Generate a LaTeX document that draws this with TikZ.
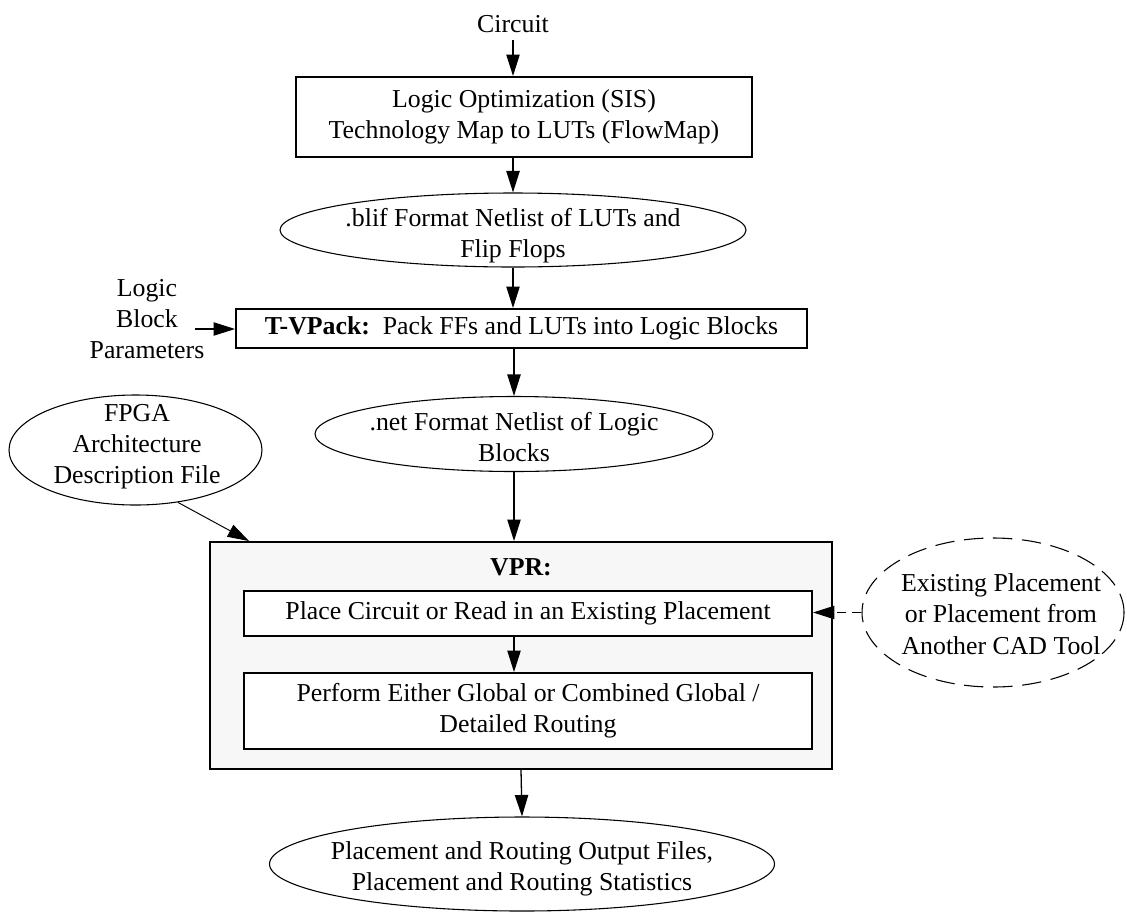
\documentclass[tikz,border=0pt]{standalone}
\usepackage{fontspec}
\setmainfont{Liberation Serif}
\usepackage{xcolor}
\usetikzlibrary{arrows.meta,shapes.geometric,calc}

\definecolor{vprgray}{HTML}{F7F7F7}
\newcommand{\pxu}{0.465pt}

\tikzset{
  box/.style={draw, line width=0.9pt, inner sep=0pt, align=center, fill=white},
  ell/.style={draw, ellipse, line width=0.5pt, inner sep=0pt},
  arr/.style={-{Triangle[length=10pt,width=6.2pt]}, line width=0.6pt},
  thinarr/.style={-{Triangle[length=10pt,width=6.2pt]}, line width=0.45pt},
  dasharr/.style={arr, dash pattern=on 4.6pt off 2.4pt},
}

\begin{document}
\begin{tikzpicture}[x=0.465pt, y=-0.465pt, font=\fontsize{12}{14.5}\selectfont]
\useasboundingbox (0,0) rectangle (1127,911);

\node (circuit) at (513,24) {Circuit};
\node[box, minimum width=456*\pxu, minimum height=80*\pxu] (synth) at (524,117)
  {Logic Optimization (SIS)\\Technology Map to LUTs (FlowMap)};

\node[ell, minimum width=466*\pxu, minimum height=74*\pxu] (blif) at (513,230) {};
\node[align=center] at (513,236) {.blif Format Netlist of LUTs and\\Flip Flops};

\node[box, minimum width=571*\pxu, minimum height=39*\pxu] (tvpack) at (521.5,328.5)
  {\textbf{T-VPack:}\ \ Pack FFs and LUTs into Logic Blocks};
\node[align=center] (lbp) at (147,319) {Logic\\Block\\Parameters};
\coordinate (lbpout) at (195,329);

\node[ell, minimum width=398*\pxu, minimum height=75*\pxu] (netlist) at (514,434) {};
\node[align=center] at (514,437) {.net Format Netlist of Logic\\Blocks};

\node[ell, minimum width=253*\pxu, minimum height=110*\pxu] (fpga) at (135.5,450) {};
\node[align=center] at (137,447) {FPGA\\Architecture\\Description File};

\node[box, fill=vprgray, minimum width=622*\pxu, minimum height=227*\pxu] (vpr) at (521,655.5) {};
\node (vprlabel) at (521,567) {\textbf{VPR:}};
\node[box, minimum width=568*\pxu, minimum height=45*\pxu] (place) at (528,613.5)
  {Place Circuit or Read in an Existing Placement};
\node[box, minimum width=568*\pxu, minimum height=76*\pxu] (route) at (528,711)
  {Perform Either Global or Combined Global /\\Detailed Routing};
\coordinate (vprin) at ($(vpr.north west)+(40,0)$);

\node[ell, dash pattern=on 9pt off 4.5pt, minimum width=262*\pxu, minimum height=149*\pxu] (existing) at (993,612.5) {};
\node[align=center] at (1001,614) {Existing Placement\\or Placement from\\Another CAD Tool};

\node[ell, minimum width=505*\pxu, minimum height=94*\pxu] (output) at (522,864) {};
\node[align=center] at (522,869) {Placement and Routing Output Files,\\Placement and Routing Statistics};

\draw[arr] (circuit) -- (circuit |- synth.north);
\draw[arr] (blif.north |- synth.south) -- (blif.north);
\draw[arr] (blif.south) -- (blif.south |- tvpack.north);
\draw[arr] (lbpout) -- (lbpout -| tvpack.west);
\draw[arr] (netlist.north |- tvpack.south) -- (netlist.north);
\draw[arr] (netlist.south) -- (netlist.south |- vpr.north);
\draw[thinarr] (fpga.-51) -- (vprin);
\draw[arr] (place.south -| netlist) -- (netlist |- route.north);
\draw[dasharr] (existing.west) -- (existing.west -| place.east);
\draw[arr] (vpr.south) -- (output.north);
\end{tikzpicture}
\end{document}
